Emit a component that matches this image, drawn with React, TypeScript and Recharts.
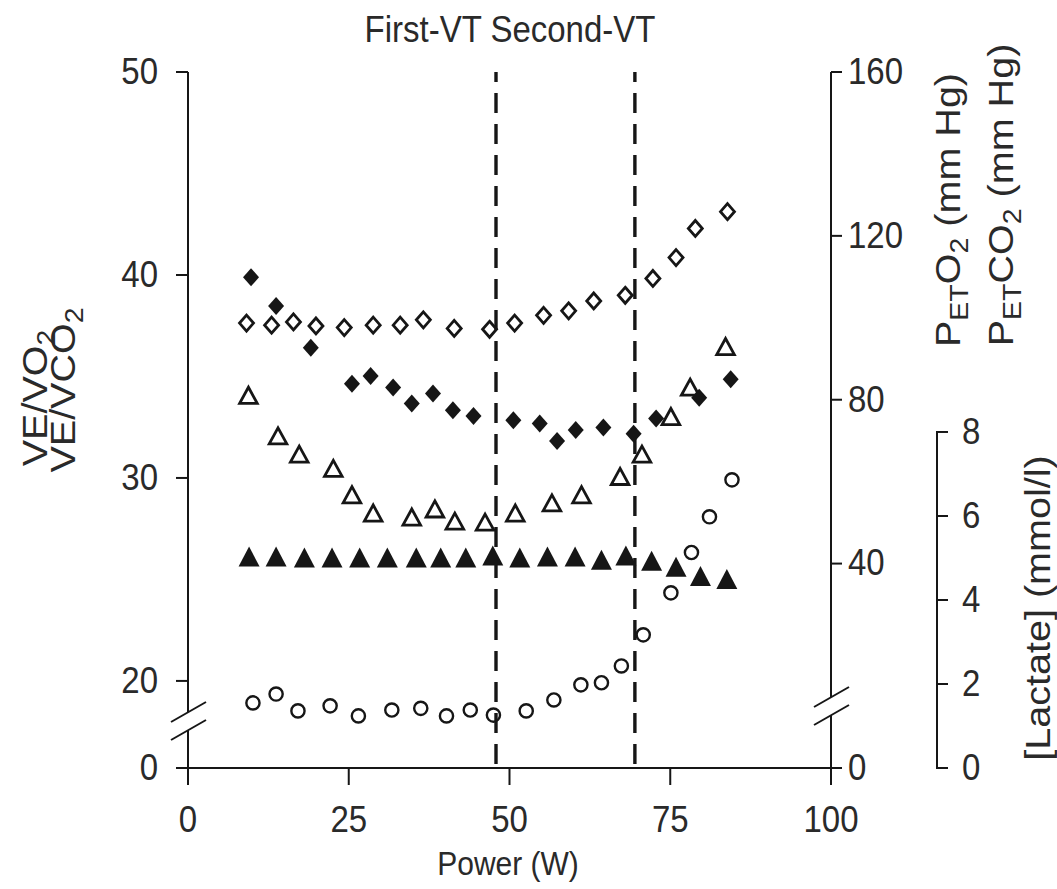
import React from "react";
import { Scatter, ScatterChart, XAxis, YAxis, ReferenceLine } from "recharts";

// power (W) and the values of each series
const petO2Power = [9.1, 13.0, 16.4, 19.9, 24.3, 28.8, 33.0, 36.6, 41.4, 46.9, 50.8, 55.3, 59.2, 63.1, 68.0, 72.3, 75.9, 78.9, 83.9];
const petO2 = [98.7, 98.2, 99.0, 98.0, 97.6, 98.2, 98.2, 99.5, 97.4, 97.2, 98.7, 100.6, 101.7, 104.1, 105.5, 109.6, 114.7, 121.8, 125.9];

const petCO2Power = [9.8, 13.7, 19.1, 25.5, 28.4, 31.9, 34.8, 38.1, 41.2, 44.4, 50.6, 54.7, 57.4, 60.3, 64.6, 69.3, 72.8, 79.5, 84.4];
const petCO2 = [109.9, 102.9, 92.7, 83.9, 85.8, 83.0, 79.1, 81.5, 77.4, 76.0, 75.0, 74.2, 69.9, 72.6, 73.2, 71.7, 75.4, 80.5, 85.0];

const veVO2Power = [9.4, 14.0, 17.3, 22.6, 25.5, 28.8, 34.8, 38.4, 41.5, 46.2, 50.9, 56.6, 61.2, 67.2, 70.6, 75.1, 78.1, 83.6];
const veVO2 = [34.1, 32.1, 31.2, 30.5, 29.2, 28.3, 28.1, 28.5, 27.9, 27.85, 28.3, 28.8, 29.2, 30.1, 31.2, 33.05, 34.5, 36.5];

const veVCO2Power = [9.5, 13.7, 18.1, 22.4, 26.7, 31.0, 35.5, 39.3, 43.2, 47.4, 51.6, 55.9, 60.2, 64.3, 68.1, 72.1, 75.9, 79.7, 83.8];
const veVCO2 = [26.1, 26.1, 26.05, 26.05, 26.05, 26.05, 26.05, 26.05, 26.05, 26.15, 26.05, 26.1, 26.1, 25.95, 26.15, 25.9, 25.6, 25.15, 25.0];

const lactatePower = [10.1, 13.7, 17.1, 22.1, 26.5, 31.7, 36.2, 40.2, 43.9, 47.5, 52.6, 56.9, 61.1, 64.3, 67.4, 70.8, 75.1, 78.3, 81.1, 84.6];
const lactate = [1.55, 1.76, 1.36, 1.48, 1.24, 1.38, 1.42, 1.24, 1.38, 1.26, 1.36, 1.62, 1.98, 2.03, 2.43, 3.17, 4.17, 5.13, 5.98, 6.86];

const powerTicks = [0, 25, 50, 75, 100];
const thresholds = [47.9, 69.5]; // first and second ventilatory threshold

// both main axes are broken: the bottom end is labelled 0
const VENT_MIN = 15.71;
const VENT_MAX = 50;
const ventTicks = [VENT_MIN, 20, 30, 40, 50];
const PET_MIN = -9.9;
const PET_MAX = 160;
const petTicks = [PET_MIN, 40, 80, 120, 160];
const LAC_MAX = 16.57;
const lactateTicks = [0, 2, 4, 6, 8];

const toPoints = (xs: number[], ys: number[]) => xs.map((x, i) => ({ x, y: ys[i] }));

const W = 1057;
const H = 889;
const TOP = 72;
const BOTTOM = 768;
const INK = "#161616";
const TEXT = "#2a2a2a";
const FONT = "'Liberation Sans', Arial, Helvetica, sans-serif";
const FS = 33;
const STRETCH = 1.13; // the scan is a bit taller than wide

const OpenDiamond = ({ cx, cy }: any) => (
  <path d={`M${cx},${cy - 8}L${cx + 7},${cy}L${cx},${cy + 8}L${cx - 7},${cy}Z`} fill="none" stroke={INK} strokeWidth={2.8} />
);
const FilledDiamond = ({ cx, cy }: any) => (
  <path d={`M${cx},${cy - 9}L${cx + 8},${cy}L${cx},${cy + 9}L${cx - 8},${cy}Z`} fill={INK} />
);
const OpenTriangle = ({ cx, cy }: any) => (
  <path d={`M${cx},${cy - 7.5}L${cx + 8.8},${cy + 8.6}L${cx - 8.8},${cy + 8.6}Z`} fill="none" stroke={INK} strokeWidth={2.8} />
);
const FilledTriangle = ({ cx, cy }: any) => (
  <path d={`M${cx},${cy - 10.5}L${cx + 10.5},${cy + 9.5}L${cx - 10.5},${cy + 9.5}Z`} fill={INK} />
);
const OpenCircle = ({ cx, cy }: any) => (
  <circle cx={cx} cy={cy} r={6.6} fill="none" stroke={INK} strokeWidth={2.4} />
);

const Txt = ({ x, y, anchor, size = FS, children }: any) => (
  <g transform={`translate(${x},${y}) scale(1,${STRETCH})`}>
    <text textAnchor={anchor} fontSize={size} fill={TEXT} fontFamily={FONT}>
      {children}
    </text>
  </g>
);

const BreakMark = ({ ax, cy }: any) => (
  <g stroke={INK} strokeWidth={2}>
    <rect x={ax - 4} y={cy - 9} width={8} height={18} fill="#fff" stroke="none" />
    <line x1={ax - 17} y1={cy + 1} x2={ax + 18} y2={cy - 19} />
    <line x1={ax - 17} y1={cy + 19} x2={ax + 18} y2={cy - 1} />
  </g>
);

const XTick = ({ x, y, payload }: any) => (
  <Txt x={x} y={y + FS * 0.716} anchor="middle">{payload.value}</Txt>
);

const VentTick = ({ x, y, payload }: any) => {
  const isBreak = payload.value === VENT_MIN;
  return (
    <g>
      {isBreak && <BreakMark ax={x + 30} cy={y - 47} />}
      <Txt x={x} y={y + FS * 0.36} anchor="end">{isBreak ? "0" : payload.value}</Txt>
    </g>
  );
};

const PetTick = ({ x, y, payload }: any) => {
  const isBreak = payload.value === PET_MIN;
  return (
    <g>
      {isBreak && <BreakMark ax={x - 17} cy={y - 62} />}
      <Txt x={x} y={y + FS * 0.36} anchor="start">{isBreak ? "0" : payload.value}</Txt>
    </g>
  );
};

const LAC_PX = (BOTTOM - TOP) / LAC_MAX;
const LactateTick = ({ x, y, payload }: any) => (
  <g>
    {payload.value === 0 && (
      <line x1={x - 25} x2={x - 25} y1={y + 1} y2={y - 8 * LAC_PX - 1} stroke={INK} strokeWidth={2} />
    )}
    <Txt x={x} y={y + FS * 0.36} anchor="start">{payload.value}</Txt>
  </g>
);

const sub = (s: string, size: number) => (
  <tspan fontSize={size * 0.72} dy={size * 0.24}>{s}</tspan>
);

const Rotated = ({ x, y, size = 35, children }: any) => (
  <text
    transform={`translate(${x},${y}) rotate(-90) scale(${STRETCH},1)`}
    textAnchor="middle"
    fontSize={size}
    fill={TEXT}
    fontFamily={FONT}
  >
    {children}
  </text>
);

const Titles = () => {
  const s = 35;
  const up = s * 0.24;
  return (
    <g>
      <Txt x={510} y={42} anchor="middle">First-VT Second-VT</Txt>
      <Txt x={508} y={875} anchor="middle" size={30}>Power (W)</Txt>
      <Rotated x={47} y={398}>
        VE/VO{sub("2", s)}
      </Rotated>
      <Rotated x={75} y={390}>
        VE/VCO{sub("2", s)}
      </Rotated>
      <Rotated x={960} y={210}>
        P{sub("ET", s)}<tspan dy={-up}>O</tspan>{sub("2", s)}<tspan dy={-up}> (mm Hg)</tspan>
      </Rotated>
      <Rotated x={1013} y={195}>
        P{sub("ET", s)}<tspan dy={-up}>CO</tspan>{sub("2", s)}<tspan dy={-up}> (mm Hg)</tspan>
      </Rotated>
      <Rotated x={1050} y={608}>[Lactate] (mmol/l)</Rotated>
    </g>
  );
};

const axisStroke = { stroke: INK, strokeWidth: 2 };

export default function App() {
  return (
    <div style={{ position: "absolute", left: 0, top: 0, width: W, height: H, background: "#fff" }}>
      <ScatterChart width={W} height={H} margin={{ top: TOP, right: 0, bottom: 0, left: 0 }}>
        <XAxis
          type="number"
          dataKey="x"
          domain={[0, 100]}
          ticks={powerTicks}
          interval={0}
          height={H - BOTTOM}
          tickSize={17}
          tickMargin={0}
          axisLine={axisStroke}
          tickLine={axisStroke}
          tick={(p: any) => <XTick {...p} y={BOTTOM + 17 + 23} />}
        />
        <YAxis
          yAxisId="vent"
          type="number"
          dataKey="y"
          orientation="left"
          width={188}
          domain={[VENT_MIN, VENT_MAX]}
          ticks={ventTicks}
          interval={0}
          allowDataOverflow
          tickSize={12}
          tickMargin={18}
          axisLine={axisStroke}
          tickLine={axisStroke}
          tick={(p: any) => <VentTick {...p} />}
        />
        {/* outer right axis first, so the PET axis sits against the plot */}
        <YAxis
          yAxisId="b_lac"
          type="number"
          dataKey="y"
          orientation="right"
          width={120}
          domain={[0, LAC_MAX]}
          ticks={lactateTicks}
          interval={0}
          allowDataOverflow
          tickSize={11}
          tickMargin={14}
          axisLine={false}
          tickLine={axisStroke}
          tick={(p: any) => <LactateTick {...p} />}
        />
        <YAxis
          yAxisId="a_pet"
          type="number"
          dataKey="y"
          orientation="right"
          width={106}
          domain={[PET_MIN, PET_MAX]}
          ticks={petTicks}
          interval={0}
          allowDataOverflow
          tickSize={11}
          tickMargin={6}
          axisLine={axisStroke}
          tickLine={axisStroke}
          tick={(p: any) => <PetTick {...p} />}
        />
        {thresholds.map((t) => (
          <ReferenceLine
            key={t}
            x={t}
            yAxisId="vent"
            stroke={INK}
            strokeWidth={3.4}
            strokeDasharray="20 11"
            strokeDashoffset={-4}
          />
        ))}
        <Scatter yAxisId="a_pet" data={toPoints(petO2Power, petO2)} shape={OpenDiamond} isAnimationActive={false} />
        <Scatter yAxisId="a_pet" data={toPoints(petCO2Power, petCO2)} shape={FilledDiamond} isAnimationActive={false} />
        <Scatter yAxisId="vent" data={toPoints(veVO2Power, veVO2)} shape={OpenTriangle} isAnimationActive={false} />
        <Scatter yAxisId="vent" data={toPoints(veVCO2Power, veVCO2)} shape={FilledTriangle} isAnimationActive={false} />
        <Scatter yAxisId="b_lac" data={toPoints(lactatePower, lactate)} shape={OpenCircle} isAnimationActive={false} />
        <Titles />
      </ScatterChart>
    </div>
  );
}
